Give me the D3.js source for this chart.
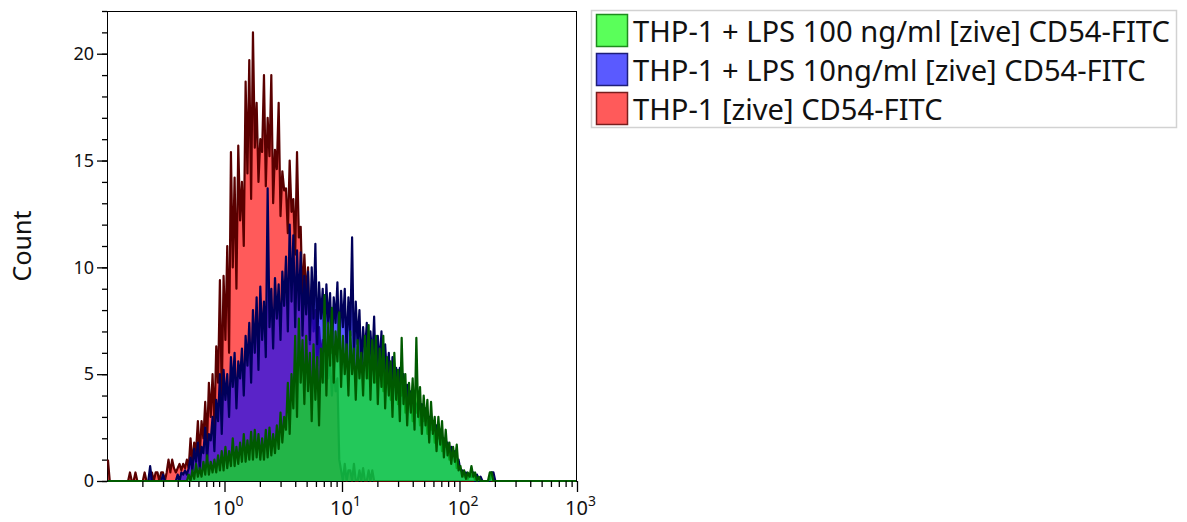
<!DOCTYPE html>
<html>
<head>
<meta charset="utf-8">
<script src="https://cdn.jsdelivr.net/npm/d3@7"></script>
<style>
  html, body { margin: 0; padding: 0; background: #fff; }
  svg { display: block; }
  text { font-family: "Noto Sans", "Open Sans", sans-serif; fill: #111; }
</style>
</head>
<body>
<svg id="chart" width="1187" height="522"></svg>
<script>
// Histogram channels: 64 per decade, from 10^-1 to 10^3 (256 channels)
const binsPerDecade = 64;
const firstDecade = -1;
const channelCount = 256;

// Series names (legend order)
const seriesNames = [
  "THP-1 + LPS 100 ng/ml [zive] CD54-FITC",
  "THP-1 + LPS 10ng/ml [zive] CD54-FITC",
  "THP-1 [zive] CD54-FITC"
];

// Unstimulated THP-1, counts from channel 0
const redStart = 0;
const redCounts = [1.0,0,0,0,0,0,0,0,0,0,0,0,
  0.4,0,0,0.4,0,0,0,0,0.4,0,0,0,0.4,0,0.4,0.4,0,0.4,0.4,0,0.4,
  1.0,0.4,1.0,0.6,0.4,0.6,0.8,0.5,0.8,
  0.6,1.0,0.6,2.0,0.8,1.8,1.4,2.8,1.2,2.8,2.0,3.7,1.8,4.6,3.0,5.0,2.6,6.3,
  4.6,9.4,4.0,9.6,6.6,11.0,6.0,15.4,10.0,14.2,9.0,15.7,12.2,14.0,11.0,18.7,
  14.4,19.7,13.2,21.0,15.6,17.7,14.0,16.0,15.4,19.0,13.8,17.0,15.2,19.0,
  13.0,15.5,14.6,17.7,12.4,14.5,13.6,13.7,11.6,15.0,12.6,13.2,10.6,15.4,
  11.4,11.9,8.4,10.6,8.6,10.0,6.4,8.8,7.0,8.0,5.4,7.2,5.8,6.6,4.6,6.0,
  4.8,5.6,4.0,5.2,4.2,4.8,1.0,0.5,0,0.8,0,0.5,0.5,0,0.8,0,0,0.5,0,0.6,0,0,0.5,0,0.5];

// THP-1 + LPS 10 ng/ml, counts from channel 23
const blueStart = 23;
const blueCounts = [0.7,0,0,0,0,0,0,0.3,0,0,0,0,0,0,0,0.3,0,0.4,0.3,0.5,0.3,0.6,
  1.1,0.5,1.5,0.9,1.8,0.6,1.6,1.3,2.5,1.0,2.2,1.9,3.0,1.4,3.8,2.8,5.0,2.2,
  5.2,3.8,5.0,3.0,5.8,4.4,6.0,3.4,5.6,4.8,6.2,4.0,6.8,5.4,7.4,4.6,8.0,6.0,
  8.6,5.2,9.1,6.6,8.4,5.8,13.7,7.2,9.0,6.2,9.5,7.6,9.2,6.6,9.8,8.2,10.5,7.0,
  12.0,8.4,11.5,7.2,10.8,8.0,10.7,6.8,9.6,7.8,9.8,6.6,10.0,7.6,11.1,6.4,
  9.3,7.6,9.0,6.2,9.2,7.4,8.8,6.0,8.6,7.4,9.3,6.2,8.9,7.2,9.0,6.0,8.6,6.8,
  11.4,5.6,8.4,6.4,8.0,5.2,7.2,6.0,7.4,4.8,7.0,5.6,7.7,4.6,6.8,5.4,7.0,4.2,
  6.4,4.8,6.0,3.8,5.8,4.4,5.3,3.6,5.3,4.0,5.0,3.2,4.5,3.6,4.2,2.8,4.0,3.2,
  3.8,2.6,3.6,2.8,3.4,2.2,3.0,2.4,2.8,1.8,2.6,2.0,2.4,1.4,2.0,1.6,1.8,1.0,
  1.6,1.2,1.4,0.6,1.0,0.5,0.5,0.2,0.4,0.1,0.3,0.2,0.4,0,0.3,0,0.2,
  0,0,0,0,0,0.4,0.4];

// THP-1 + LPS 100 ng/ml, counts from channel 44
const greenStart = 44;
const greenCounts = [0.3,0,0.5,0.1,0.8,0.2,0.6,0.2,0.9,0.3,1.2,0.3,0.9,0.4,1.0,0.4,
  1.2,0.5,1.4,0.5,1.6,0.6,1.4,0.7,2.0,0.7,1.6,0.8,1.8,0.9,2.2,0.9,1.9,1.0,
  2.3,1.0,2.4,1.1,2.2,1.0,2.0,1.0,2.4,1.1,2.5,1.2,2.2,1.3,2.6,1.5,
  3.2,1.8,3.0,2.4,4.6,2.2,5.0,3.4,6.8,3.0,7.6,4.6,6.6,3.6,6.8,4.2,6.0,2.8,
  6.4,3.8,5.8,2.6,6.2,4.6,8.7,4.0,7.4,5.4,8.1,4.6,7.0,5.6,7.9,4.4,6.8,5.0,
  6.4,4.0,7.0,5.0,6.2,3.8,6.6,4.8,6.0,4.0,6.8,4.8,7.3,3.8,6.6,4.6,6.8,3.6,
  6.2,4.4,6.8,3.4,5.8,4.0,5.6,3.0,6.0,3.8,5.2,2.8,6.7,3.6,5.0,2.6,4.6,3.2,
  4.8,2.4,6.7,3.0,4.4,2.2,4.0,2.6,3.8,1.8,3.7,2.2,3.0,1.4,3.0,1.7,2.8,1.1,
  2.4,1.2,1.8,0.8,1.6,0.9,1.7,0.5,0.7,0.2,0.5,0.1,0.4,0.2,0.7,0.2,0.4,0,0.2,
  0,0,0,0,0,0.4,0.4];

// Axis ticks
const yMajorTicks = [0, 5, 10, 15, 20];
const yMinorTicks = d3.range(0, 23);
const xMajorTicks = [1, 10, 100, 1000];
const xMinorTicks = [0.2,0.3,0.4,0.5,0.6,0.7,0.8,0.9, 2,3,4,5,6,7,8,9,
  20,30,40,50,60,70,80,90, 200,300,400,500,600,700,800,900];

// Fill/outline colours per series, in legend order
const seriesStyle = [
  { counts: greenCounts, start: greenStart, fill: "rgb(8,255,8)",  stroke: "#005a00", swatch: "rgb(90,255,90)",  edge: "#1e8c1e" },
  { counts: blueCounts,  start: blueStart,  fill: "rgb(8,8,255)",  stroke: "#00005a", swatch: "rgb(90,90,255)",  edge: "#1e1e78" },
  { counts: redCounts,   start: redStart,   fill: "rgb(255,8,8)",  stroke: "#5a0000", swatch: "rgb(255,90,90)",  edge: "#781e1e" }
];

const svg = d3.select("#chart");
const plot = { left: 107, right: 577, top: 11, bottom: 481 };

const x = d3.scaleLog().domain([0.1, 1000]).range([plot.left, plot.right]);
const y = d3.scaleLinear().domain([0, 22]).range([plot.bottom, plot.top]);

// Expand a series into one point per channel across the full axis
function channels(counts, start) {
  return d3.range(channelCount).map(i => {
    const k = i - start;
    const c = (k >= 0 && k < counts.length) ? counts[k] : 0;
    return { v: Math.pow(10, firstDecade + (i + 0.5) / binsPerDecade), c };
  });
}

svg.append("defs").append("clipPath").attr("id", "plotClip")
  .append("rect")
  .attr("x", plot.left).attr("y", plot.top - 1)
  .attr("width", plot.right - plot.left).attr("height", plot.bottom - plot.top + 2);

// Frame
svg.append("rect")
  .attr("x", plot.left + 0.5).attr("y", plot.top + 0.5)
  .attr("width", plot.right - plot.left - 1).attr("height", plot.bottom - plot.top)
  .attr("fill", "none").attr("stroke", "#000").attr("stroke-width", 1);

// Histograms, drawn red, blue, green
const area = d3.area().x(d => x(d.v)).y0(y(0)).y1(d => y(d.c));
const line = d3.line().x(d => x(d.v)).y(d => y(d.c));

const dataLayer = svg.append("g").attr("clip-path", "url(#plotClip)");
[2, 1, 0].forEach(s => {
  const st = seriesStyle[s];
  const pts = channels(st.counts, st.start);
  dataLayer.append("path").datum(pts)
    .attr("d", area)
    .attr("fill", st.fill).attr("fill-opacity", 0.667);
  dataLayer.append("path").datum(pts)
    .attr("d", line)
    .attr("fill", "none").attr("stroke", st.stroke)
    .attr("stroke-width", 2.2).attr("stroke-linejoin", "round");
});

// Y axis: minor and major ticks
const yMinor = svg.append("g").attr("transform", `translate(${plot.left},0)`)
  .call(d3.axisLeft(y).tickValues(yMinorTicks).tickSize(5).tickFormat(""));
const yMajor = svg.append("g").attr("transform", `translate(${plot.left},0)`)
  .call(d3.axisLeft(y).tickValues(yMajorTicks).tickSize(10).tickPadding(3));
[yMinor, yMajor].forEach(g => {
  g.select(".domain").remove();
  g.selectAll("line").attr("stroke", "#000").attr("stroke-width", 1.3);
});
yMajor.selectAll("text").attr("font-size", 18).attr("fill", "#111")
  .attr("font-family", "Noto Sans, sans-serif");

// X axis: minor and major ticks
const xMinor = svg.append("g").attr("transform", `translate(0,${plot.bottom})`)
  .call(d3.axisBottom(x).tickValues(xMinorTicks).tickSize(6).tickFormat(""));
const xMajor = svg.append("g").attr("transform", `translate(0,${plot.bottom})`)
  .call(d3.axisBottom(x).tickValues(xMajorTicks).tickSize(11).tickFormat(""));
[xMinor, xMajor].forEach(g => {
  g.select(".domain").remove();
  g.selectAll("line").attr("stroke", "#000").attr("stroke-width", 1.3);
});
xMajor.selectAll(".tick").each(function (d) {
  const t = d3.select(this).select("text")
    .attr("y", 0).attr("dy", 0)
    .attr("transform", "translate(3,34)")
    .attr("font-size", 20).attr("fill", "#111")
    .attr("font-family", "Noto Sans, sans-serif")
    .attr("text-anchor", "middle");
  t.text(null);
  t.append("tspan").text("10");
  t.append("tspan").attr("dy", -9).attr("font-size", 14).text(String(Math.round(Math.log10(d))));
});

// Y axis title
svg.append("text")
  .attr("transform", "translate(31,246) rotate(-90)")
  .attr("text-anchor", "middle")
  .attr("font-size", 25)
  .attr("fill", "#111")
  .text("Count");

// Legend
const legend = svg.append("g");
legend.append("rect")
  .attr("x", 591.5).attr("y", 10.5).attr("width", 585).attr("height", 117)
  .attr("fill", "#fff").attr("stroke", "#d2d2d2").attr("stroke-width", 1.5);
const rowH = 39;
seriesNames.forEach((name, i) => {
  const st = seriesStyle[i];
  const g = legend.append("g").attr("transform", `translate(596,${14 + i * rowH})`);
  g.append("rect").attr("x", 0.5).attr("y", 0.5).attr("width", 31).attr("height", 32)
    .attr("fill", st.swatch).attr("stroke", st.edge).attr("stroke-width", 1.5);
  g.append("text").attr("class", "legendText")
    .attr("x", 37).attr("y", 28)
    .attr("font-size", 26).attr("fill", "#111")
    .text(name);
});
// Fit the legend text to the width of the longest entry
const first = legend.select(".legendText").node();
const w0 = first.getComputedTextLength();
legend.selectAll(".legendText").attr("font-size", 26 * 537 / w0);
</script>
</body>
</html>
